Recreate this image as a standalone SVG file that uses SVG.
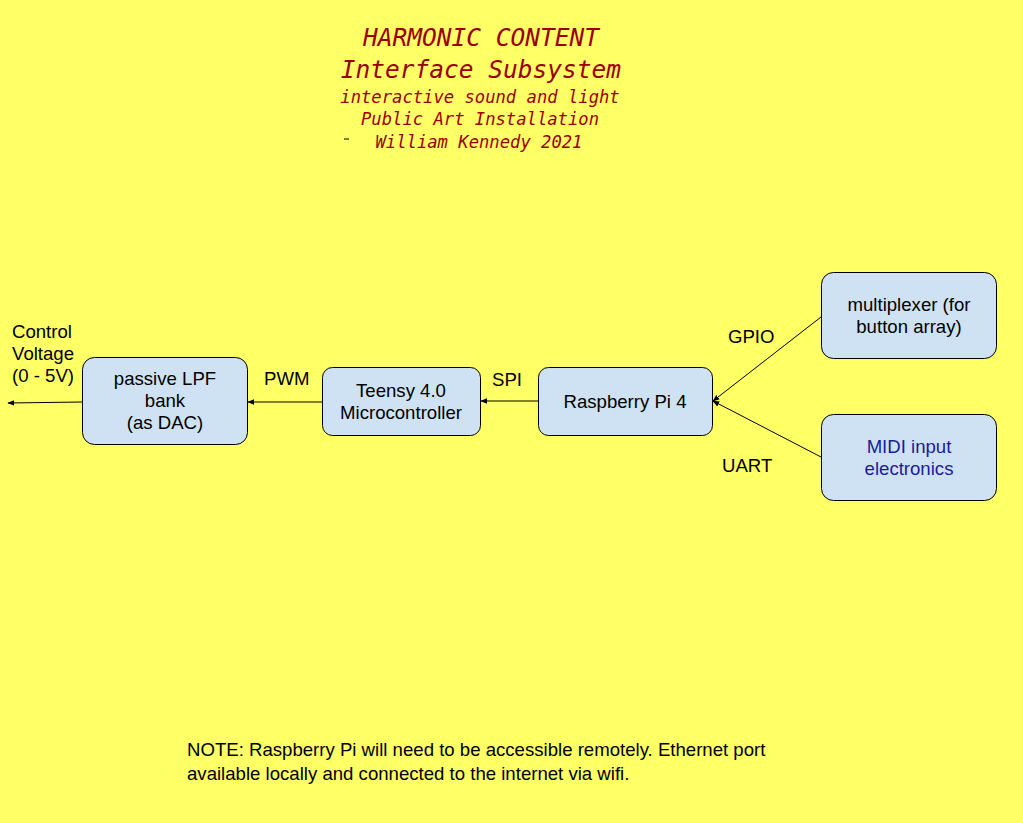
<svg xmlns="http://www.w3.org/2000/svg" width="1023" height="823" viewBox="0 0 1023 823">
<defs>
<style>
.box{fill:#cfe2f3;stroke:#000;stroke-width:1}
.t{font-family:"Liberation Sans",Arial,sans-serif;font-size:18.6px;fill:#000}
.c{text-anchor:middle}
.title{font-family:"DejaVu Sans Mono","Liberation Mono",monospace;font-style:italic;fill:#990000;text-anchor:middle}
.ln{stroke:#000;stroke-width:1;fill:none;marker-end:url(#ah)}
</style>
<marker id="ah" viewBox="0 0 10 10" refX="9" refY="5" markerWidth="7" markerHeight="7" markerUnits="userSpaceOnUse" orient="auto">
<path d="M0,1 L10,5 L0,9 z" fill="#000"/>
</marker>
</defs>
<rect width="1023" height="823" fill="#ffff66"/>
<g id="title">
<text class="title" x="481" y="46" font-size="24.5">HARMONIC CONTENT</text>
<text class="title" x="481" y="78" font-size="24.5">Interface Subsystem</text>
<text class="title" x="480" y="103" font-size="17.2">interactive sound and light</text>
<text class="title" x="480" y="125" font-size="17.2">Public Art Installation</text>
<text class="title" x="479" y="148" font-size="17.2">William Kennedy 2021</text>
<line x1="344" y1="139" x2="349" y2="139" stroke="#000" stroke-width="1"/>
</g>
<g id="connectors">
<line class="ln" x1="538" y1="401" x2="481" y2="401"/>
<line class="ln" x1="322" y1="402" x2="248" y2="402"/>
<line class="ln" x1="82" y1="402" x2="8" y2="403"/>
<line class="ln" x1="821" y1="317" x2="713" y2="401"/>
<line class="ln" x1="821" y1="457" x2="713" y2="401"/>
<text class="t" x="264" y="385">PWM</text>
<text class="t" x="492" y="386">SPI</text>
<text class="t" x="728" y="343">GPIO</text>
<text class="t" x="722" y="472">UART</text>
</g>
<g id="cv-label">
<text class="t" x="12" y="338">Control</text>
<text class="t" x="12" y="360">Voltage</text>
<text class="t" x="12" y="382">(0 - 5V)</text>
</g>
<g id="lpf">
<rect class="box" x="82.5" y="357.5" width="165" height="87" rx="12"/>
<text class="t c" x="165" y="385">passive LPF</text>
<text class="t c" x="165" y="407">bank</text>
<text class="t c" x="165" y="429">(as DAC)</text>
</g>
<g id="teensy">
<rect class="box" x="322.5" y="367.5" width="158" height="68" rx="10"/>
<text class="t c" x="401" y="397">Teensy 4.0</text>
<text class="t c" x="401" y="419">Microcontroller</text>
</g>
<g id="rpi">
<rect class="box" x="538.5" y="367.5" width="174" height="68" rx="10"/>
<text class="t c" x="625" y="408">Raspberry Pi 4</text>
</g>
<g id="mux">
<rect class="box" x="821.5" y="272.5" width="175" height="86" rx="12"/>
<text class="t c" x="909" y="311">multiplexer (for</text>
<text class="t c" x="909" y="333">button array)</text>
</g>
<g id="midi">
<rect class="box" x="821.5" y="414.5" width="175" height="86" rx="12"/>
<text class="t c" x="909" y="453" style="fill:#1a1a9c">MIDI input</text>
<text class="t c" x="909" y="475" style="fill:#1a1a9c">electronics</text>
</g>
<g id="note">
<text class="t" x="187" y="756">NOTE: Raspberry Pi will need to be accessible remotely. Ethernet port</text>
<text class="t" x="187" y="780">available locally and connected to the internet via wifi.</text>
</g>
</svg>
